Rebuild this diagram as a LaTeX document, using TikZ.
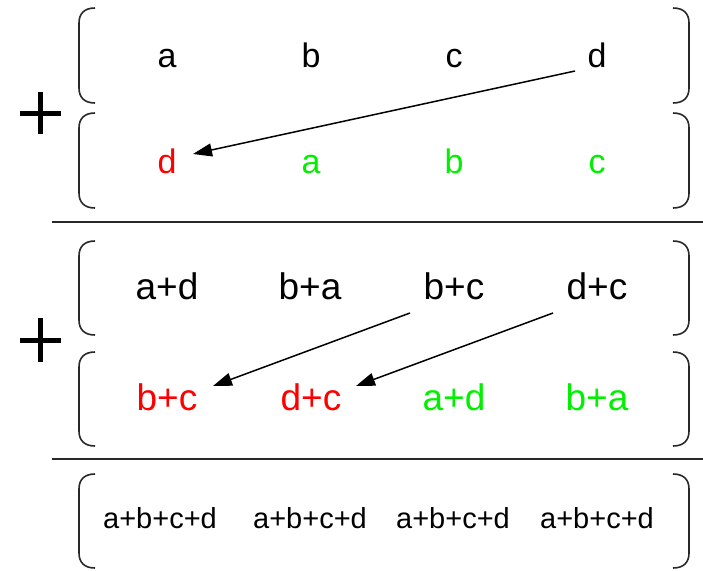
\documentclass[tikz,border=0pt]{standalone}
\usepackage{fontspec}
\setmainfont{Liberation Sans}
\usetikzlibrary{arrows.meta}
\definecolor{termred}{RGB}{255,0,0}
\definecolor{termgreen}{RGB}{0,240,0}
\definecolor{inkgray}{RGB}{40,40,40}

% opening and closing vector brackets between two heights
\newcommand{\openbr}[2]{%
  \draw[paren] (95,#1) .. controls (84,#1) and (79,#1+6) .. (79,#1+15)
    -- (79,#2-15) .. controls (79,#2-6) and (84,#2) .. (95,#2);}
\newcommand{\closebr}[2]{%
  \draw[paren] (673,#1) .. controls (684,#1) and (689,#1+6) .. (689,#1+15)
    -- (689,#2-15) .. controls (689,#2-6) and (684,#2) .. (673,#2);}

\begin{document}
\begin{tikzpicture}[x=1pt,y=-1pt,
  term/.style={anchor=base, inner sep=0pt, font=\fontsize{34}{40}\selectfont},
  sumterm/.style={anchor=base, inner sep=0pt, font=\fontsize{37}{44}\selectfont},
  total/.style={anchor=base, inner sep=0pt, font=\fontsize{29}{34}\selectfont},
  moved/.style={text=termred},
  kept/.style={text=termgreen},
  paren/.style={line width=1.6pt, draw=inkgray},
  rulebar/.style={line width=2pt, draw=inkgray},
  plussign/.style={line width=5pt},
  shiftarrow/.style={line width=1.5pt, -{Triangle[length=19pt,width=13pt]}}]

\useasboundingbox (0,0) rectangle (703,570);

% brackets
\openbr{8}{103}   \closebr{8}{103}
\openbr{113}{208} \closebr{113}{208}
\openbr{241}{335} \closebr{241}{335}
\openbr{352}{446} \closebr{352}{446}
\openbr{474}{568} \closebr{474}{568}

% plus signs
\draw[plussign] (20,113) -- (61,113);
\draw[plussign] (40.5,92) -- (40.5,134);
\draw[plussign] (20,340) -- (61,340);
\draw[plussign] (40.5,318) -- (40.5,362);

% summation rules
\draw[rulebar] (52,222) -- (703,222);
\draw[rulebar] (52,459) -- (703,459);

% first vector
\node[term] (p1) at (167,67) {a};
\node[term] (p2) at (311,67) {b};
\node[term] (p3) at (454,67) {c};
\node[term] (p4) at (597,67) {d};

% first vector rotated
\node[term,moved] (q1) at (167,173) {d};
\node[term,kept]  (q2) at (311,173) {a};
\node[term,kept]  (q3) at (454,173) {b};
\node[term,kept]  (q4) at (597,173) {c};

% partial sums
\node[sumterm] (s1) at (167,299) {a+d};
\node[sumterm] (s2) at (310,299) {b+a};
\node[sumterm] (s3) at (454,299) {b+c};
\node[sumterm] (s4) at (597,299) {d+c};

% partial sums rotated by two
\node[sumterm,moved] (t1) at (167,410) {b+c};
\node[sumterm,moved] (t2) at (311,410) {d+c};
\node[sumterm,kept]  (t3) at (454,410) {a+d};
\node[sumterm,kept]  (t4) at (597,410) {b+a};

% result
\node[total] (u1) at (160,528) {a+b+c+d};
\node[total] (u2) at (310,528) {a+b+c+d};
\node[total] (u3) at (453,528) {a+b+c+d};
\node[total] (u4) at (597,528) {a+b+c+d};

% arrow end points
\coordinate (p4out) at (575,71);
\coordinate (q1in)  at (193,154);
\coordinate (s3out) at (410,313);
\coordinate (t1in)  at (213,386);
\coordinate (s4out) at (553,313);
\coordinate (t2in)  at (356,386);

\draw[shiftarrow] (p4out) -- (q1in);
\draw[shiftarrow] (s3out) -- (t1in);
\draw[shiftarrow] (s4out) -- (t2in);
\end{tikzpicture}
\end{document}
